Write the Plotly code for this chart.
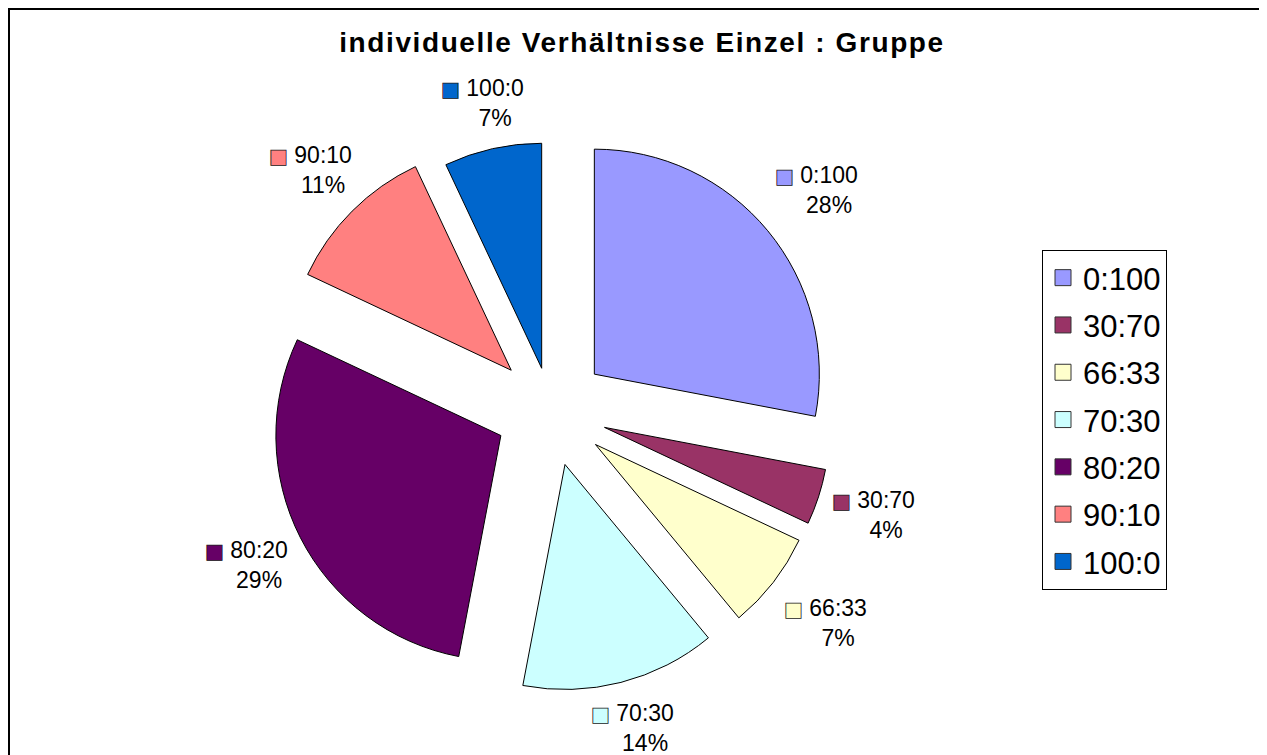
import math
import plotly.graph_objects as go

categories = ["0:100", "30:70", "66:33", "70:30", "80:20", "90:10", "100:0"]
shares = [28, 4, 7, 14, 29, 11, 7]
pulls = [0.25, 0.25, 0.25, 0.25, 0.25, 0.25, 0.19]
colors = ["#9999FF", "#993366", "#FFFFCC", "#CCFFFF", "#660066", "#FF8080", "#0066CC"]
title_text = "individuelle Verhältnisse Einzel : Gruppe"

W, H = 1267, 755
OFF = 8  # page body margin
FONT = "Liberation Sans, Arial, sans-serif"

# pie box in figure pixels
cx, cy, box = 551 - OFF, 410 - OFF, 562.5
dom_x = [(cx - box / 2) / W, (cx + box / 2) / W]
dom_y = [1 - (cy + box / 2) / H, 1 - (cy - box / 2) / H]
R = box / (2 * (1 + max(pulls)))

fig = go.Figure()
fig.add_trace(
    go.Pie(
        labels=categories,
        values=shares,
        textinfo="none",
        marker=dict(colors=colors, line=dict(color="black", width=1)),
        sort=False,
        direction="clockwise",
        rotation=0,
        pull=pulls,
        showlegend=False,
        domain=dict(x=dom_x, y=dom_y),
        hoverinfo="label+percent",
    )
)

# data labels (Excel style: key + category, percentage below), placed along mid-angle
key_css = "stroke:#222;stroke-width:0.8px;font-family:DejaVu Sans;font-size:20px"
hw, hh, gap = 41, 31, 15
total = sum(shares)
cum = 0.0
annotations = []
for cat, v, p, c in zip(categories, shares, pulls, colors):
    mid = (cum + v / 2) / total * 2 * math.pi
    cum += v
    ux, uy = math.sin(mid), -math.cos(mid)
    t = min(hw / abs(ux) if abs(ux) > 1e-9 else 1e9, hh / abs(uy) if abs(uy) > 1e-9 else 1e9)
    dist = R * (1 + p) + gap + t
    lx, ly = cx + dist * ux, cy + dist * uy
    pct = round(v / total * 100)
    txt = (
        f"<span style='fill:{c};{key_css}'>■</span> {cat}<br>"
        f"<span style='fill:rgba(0,0,0,0);stroke:none;font-family:DejaVu Sans;font-size:20px'>■</span> {pct}%"
    )
    annotations.append(
        dict(
            x=lx / W,
            y=1 - ly / H,
            xref="paper",
            yref="paper",
            text=txt,
            showarrow=False,
            xanchor="center",
            yanchor="middle",
            align="center",
            font=dict(family=FONT, size=23, color="black"),
        )
    )

# legend entries
for cat, c in zip(categories, colors):
    fig.add_trace(
        go.Scatter(
            x=[None],
            y=[None],
            mode="markers",
            name=cat,
            legendgroup=cat,
            marker=dict(symbol="square", size=17, color=c, line=dict(color="#333", width=1)),
            showlegend=True,
        )
    )

fig.update_layout(
    width=W,
    height=H,
    margin=dict(l=0, r=0, t=0, b=0, autoexpand=False),
    paper_bgcolor="white",
    plot_bgcolor="white",
    font=dict(family=FONT, color="black"),
    xaxis=dict(visible=False),
    yaxis=dict(visible=False),
    title=dict(
        text="<b><span style='letter-spacing:1.6px'>" + title_text + "</span></b>",
        x=(642 - OFF) / W,
        xanchor="center",
        y=1 - (42 - OFF) / H,
        yanchor="middle",
        font=dict(family=FONT, size=28, color="black"),
    ),
    legend=dict(
        x=(1042 - OFF) / W,
        xanchor="left",
        y=1 - (250 - OFF) / H,
        yanchor="top",
        bordercolor="black",
        borderwidth=1,
        bgcolor="white",
        font=dict(family=FONT, size=31, color="black"),
        traceorder="grouped",
        tracegroupgap=4,
        itemsizing="trace",
    ),
    annotations=annotations,
    shapes=[
        dict(
            type="rect",
            xref="paper",
            yref="paper",
            x0=1 / W,
            x1=1.02,
            y0=-0.02,
            y1=1 - 1 / H,
            line=dict(color="black", width=2),
            fillcolor="rgba(0,0,0,0)",
            layer="below",
        )
    ],
)

fig.write_html("out.html")
